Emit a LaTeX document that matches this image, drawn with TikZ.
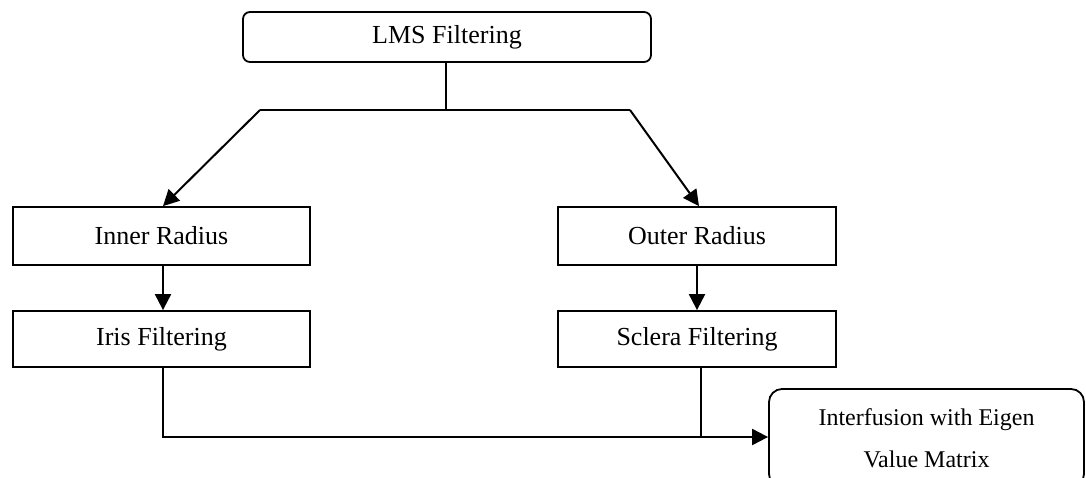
\documentclass[tikz,border=0pt]{standalone}
\usepackage{fontspec}
\setmainfont{Liberation Serif}
\usetikzlibrary{arrows.meta}
\begin{document}
\begin{tikzpicture}[x=1pt,y=-1pt,
  every node/.style={font=\fontsize{26}{30}\selectfont, inner sep=0pt},
  stagebox/.style={draw, line width=1.8pt, minimum height=58pt},
  topbox/.style={draw, line width=1.8pt, rounded corners=7pt, minimum width=408pt, minimum height=50pt},
  endbox/.style={draw, line width=1.8pt, rounded corners=13pt, minimum width=315pt, minimum height=98pt,
                 align=center, font=\fontsize{24}{42}\selectfont},
  link/.style={line width=2pt},
  flow/.style={line width=2pt, -{Triangle[length=16pt,width=16pt]}}]
\useasboundingbox (0,0) rectangle (1086,477);
\clip (0,0) rectangle (1086,477);

% boxes
\node[topbox] (lms) at (447,37) {LMS Filtering};
\node[stagebox, minimum width=297pt] (inner) at (161.5,236) {Inner Radius};
\node[stagebox, minimum width=278pt] (outer) at (697,236) {Outer Radius};
\node[stagebox, minimum width=297pt, minimum height=56pt] (iris) at (161.5,339) {Iris Filtering};
\node[stagebox, minimum width=278pt, minimum height=56pt] (sclera) at (697,339) {Sclera Filtering};
\node[endbox] (fuse) at (926.5,438) {Interfusion with Eigen\\Value Matrix};

% branching under the top box
\coordinate (split) at (446,110);
\coordinate (jl) at (260,110);
\coordinate (jr) at (630,110);
\draw[link] (lms.south -| split) -- (split);
\draw[link] (jl) -- (jr);
\draw[flow] (jl) -- (inner.north -| 163,0);
\draw[flow] (jr) -- (outer.north -| 699,0);

% radius to filtering
\draw[flow] (inner.south -| 163,0) -- (iris.north -| 163,0);
\draw[flow] (outer.south) -- (sclera.north);

% merge into the final stage
\coordinate (merge) at (701,437);
\draw[link] (iris.south -| 163,0) |- (merge);
\draw[link] (sclera.south -| merge) -- (merge);
\draw[flow] (merge) -- (fuse.west |- merge);
\end{tikzpicture}
\end{document}
